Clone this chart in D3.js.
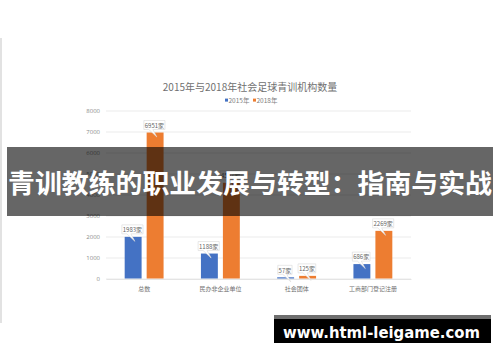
<!DOCTYPE html>
<html><head><meta charset="utf-8">
<script src="https://cdn.jsdelivr.net/npm/d3@7"></script>
<style>html,body{margin:0;padding:0;background:#fff;}svg{display:block;}</style>
</head><body>
<svg id="chart" width="500" height="362"></svg>
<script>
const categories = ["总数", "民办非企业单位", "社会团体", "工商部门登记注册"];
const seriesNames = ["2015年", "2018年"];
const values2015 = [1983, 1188, 57, 686];
const values2018 = [6951, 4557, 125, 2269];
const yTicks = [0, 1000, 2000, 3000, 4000, 5000, 6000, 7000, 8000];
const chartTitle = "2015年与2018年社会足球青训机构数量";
const bannerText = "青训教练的职业发展与转型：指南与实战";
const watermarkText = "www.html-leigame.com";

const colors = {"2015年": "#4472C4", "2018年": "#ED7D31"};
const CJK = "'Noto Sans CJK SC', 'Noto Sans', sans-serif";

const svg = d3.select("#chart");

// left faint frame line
svg.append("line").attr("x1", 1).attr("x2", 1).attr("y1", 38).attr("y2", 323)
  .attr("stroke", "#d8d8d8").attr("stroke-width", 1.5);

const x0 = d3.scaleBand().domain(categories).range([106, 411]).padding(0);
const x1 = d3.scaleBand().domain(seriesNames).range([0, x0.bandwidth()])
  .paddingInner(0.23).paddingOuter(0.85);
const y = d3.scaleLinear().domain([0, 8000]).range([278.5, 110.5]);

// title
svg.append("text").attr("x", 250).attr("y", 86).attr("text-anchor", "middle")
  .attr("dominant-baseline", "central")
  .attr("font-family", CJK).attr("font-size", 10).attr("fill", "#707070")
  .text(chartTitle);

// legend
const legend = svg.append("g");
const legendX = [225, 253];
seriesNames.forEach((s, i) => {
  legend.append("rect").attr("x", legendX[i]).attr("y", 98.6).attr("width", 3).attr("height", 3)
    .attr("fill", colors[s]);
  legend.append("text").attr("x", legendX[i] + 3.5).attr("y", 100.2)
    .attr("dominant-baseline", "central")
    .attr("font-family", CJK).attr("font-size", 6.5).attr("fill", "#808080").text(s);
});

// gridlines + y axis
const yAxis = d3.axisLeft(y).tickValues(yTicks).tickSize(-(411 - 106)).tickPadding(6)
  .tickFormat(d3.format("d"));
const gy = svg.append("g").attr("transform", "translate(106,0)").call(yAxis);
gy.select(".domain").remove();
gy.selectAll(".tick line").attr("stroke", "#e6e6e6").attr("stroke-width", 0.8);
gy.selectAll(".tick text").attr("font-family", "'Open Sans', 'Noto Sans', sans-serif")
  .attr("font-size", 6).attr("fill", "#8a8a8a");

// x axis labels
const xAxis = d3.axisBottom(x0).tickSize(0).tickPadding(8);
const gx = svg.append("g").attr("transform", "translate(0,279)").call(xAxis);
gx.select(".domain").attr("stroke", "#e0e0e0").attr("stroke-width", 0.8);
gx.selectAll(".tick text").attr("font-family", CJK).attr("font-size", 6)
  .attr("fill", "#707070");

// bars
const data = categories.map((c, i) => ({
  cat: c,
  vals: [{s: "2015年", v: values2015[i]}, {s: "2018年", v: values2018[i]}]
}));
const groups = svg.append("g").selectAll("g").data(data).join("g")
  .attr("transform", d => `translate(${x0(d.cat)},0)`);
groups.selectAll("rect").data(d => d.vals).join("rect")
  .attr("x", d => x1(d.s)).attr("width", x1.bandwidth())
  .attr("y", d => y(d.v)).attr("height", d => y(0) - y(d.v))
  .attr("fill", d => colors[d.s]);

// callout labels
const labelFont = 6;
groups.each(function(d) {
  const g = d3.select(this);
  d.vals.forEach(p => {
    const txt = p.v + "家";
    const cx = x1(p.s) + x1.bandwidth() / 2 - 0.7;
    const w = String(p.v).length * 3.4 + 7.5;
    const h = 9;
    const B = y(p.v) - 3;
    const T = B - h;
    const L = cx - w / 2, R = cx + w / 2;
    const path = `M${L},${T}H${R}V${B}H${L + 9}L${L + 13},${B + 7.5}L${L + 5},${B}H${L}Z`;
    g.append("path").attr("d", path).attr("fill", "#fff")
      .attr("stroke", "#d9d9d9").attr("stroke-width", 0.6);
    g.append("text").attr("x", cx).attr("y", (T + B) / 2 + 0.3)
      .attr("text-anchor", "middle").attr("dominant-baseline", "central")
      .attr("font-family", CJK).attr("font-size", labelFont).attr("fill", "#666")
      .text(txt);
  });
});

// banner overlay
svg.append("rect").attr("x", 7).attr("y", 147).attr("width", 486).attr("height", 69)
  .attr("fill", "#000").attr("fill-opacity", 0.6);
svg.append("text").attr("x", 250).attr("y", 181.5).attr("text-anchor", "middle")
  .attr("dominant-baseline", "central")
  .attr("font-family", CJK).attr("font-weight", "bold").attr("font-size", 26.5)
  .attr("fill", "#fff").attr("textLength", 484).attr("lengthAdjust", "spacingAndGlyphs")
  .text(bannerText);

// watermark
svg.append("rect").attr("x", 274).attr("y", 315).attr("width", 217).attr("height", 28)
  .attr("fill", "#6e6e6e");
svg.append("rect").attr("x", 274).attr("y", 319).attr("width", 217).attr("height", 24)
  .attr("fill", "#000");
svg.append("text").attr("x", 283).attr("y", 332.5)
  .attr("dominant-baseline", "central")
  .attr("font-family", "'DejaVu Sans', sans-serif").attr("font-weight", "bold").attr("font-size", 15)
  .attr("fill", "#fff").attr("textLength", 197).attr("lengthAdjust", "spacingAndGlyphs")
  .text(watermarkText);
</script>
</body></html>
